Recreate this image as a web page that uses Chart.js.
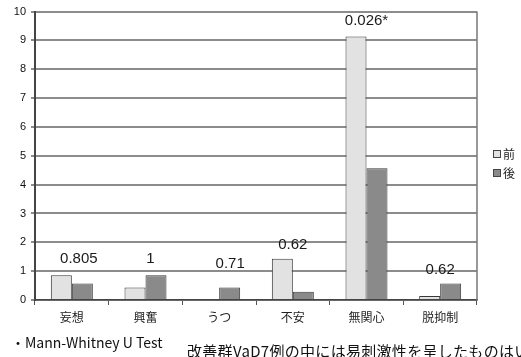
<!DOCTYPE html>
<html>
<head>
<meta charset="utf-8">
<script src="https://cdn.jsdelivr.net/npm/chart.js@4"></script>
<style>
  body { margin: 0; background: #fff; }
  #wrap { position: relative; width: 521px; height: 357px; overflow: hidden; }
  .note { position: absolute; white-space: nowrap; color: #111; font-family: "Noto Sans CJK JP", sans-serif; }
</style>
</head>
<body>
<div id="wrap">
  <canvas id="bpsd" width="521" height="357"></canvas>
  <div class="note" style="left:11px; top:332px; font-size:14px;">・Mann-Whitney U Test</div>
  <div class="note" style="left:187px; top:340px; font-size:15px; letter-spacing:0.3px;">改善群VaD7例の中には易刺激性を呈したものはい</div>
</div>
<script>
// 項目
const categories = ["妄想", "興奮", "うつ", "不安", "無関心", "脱抑制"];
// 前 / 後
const beforeValues = [0.86, 0.43, 0, 1.43, 9.14, 0.14];
const afterValues = [0.57, 0.86, 0.43, 0.29, 4.57, 0.57];
// p値ラベルとその高さ
const pLabels = ["0.805", "1", "0.71", "0.62", "0.026*", "0.62"];
const pLabelLevels = [1.41, 1.41, 1.24, 1.92, 9.69, 1.03];
const yTicks = [0, 1, 2, 3, 4, 5, 6, 7, 8, 9, 10];

const font = "Noto Sans CJK JP";
const pShift = [7, 5, 11, 0, 0, 0];

// p値を棒の上に書く
const pValuePlugin = {
  id: "pValues",
  afterDatasetsDraw(chart) {
    const { ctx, scales } = chart;
    ctx.save();
    ctx.font = "15px 'Liberation Sans', Arial, sans-serif";
    ctx.fillStyle = "#1a1a1a";
    ctx.textAlign = "center";
    ctx.textBaseline = "middle";
    pLabels.forEach((t, i) => {
      ctx.fillText(t, scales.x.getPixelForValue(i) + pShift[i], scales.y.getPixelForValue(pLabelLevels[i]));
    });
    ctx.restore();
  }
};

// 右側の枠線と凡例
const framePlugin = {
  id: "frame",
  afterDraw(chart) {
    const { ctx, chartArea } = chart;
    ctx.save();
    ctx.strokeStyle = "#777";
    ctx.lineWidth = 1.5;
    ctx.beginPath();
    ctx.moveTo(chartArea.right, chartArea.top);
    ctx.lineTo(chartArea.right, chartArea.bottom);
    ctx.stroke();

    const items = chart.data.datasets;
    ctx.font = "12px '" + font + "'";
    ctx.textBaseline = "middle";
    items.forEach((ds, i) => {
      const x = chartArea.right + 16;
      const y = 154 + i * 19;
      ctx.fillStyle = ds.backgroundColor;
      ctx.strokeStyle = "#444";
      ctx.lineWidth = 1;
      ctx.fillRect(x, y - 4, 8, 8);
      ctx.strokeRect(x + 0.5, y - 3.5, 7, 7);
      ctx.fillStyle = "#222";
      ctx.fillText(ds.label, x + 10, y);
    });
    ctx.restore();
  }
};

const ctx = document.getElementById("bpsd").getContext("2d");
new Chart(ctx, {
  type: "bar",
  data: {
    labels: categories,
    datasets: [
      {
        label: "前",
        data: beforeValues,
        backgroundColor: "#e2e2e2",
        borderColor: "#3a3a3a",
        borderWidth: 1,
        categoryPercentage: 0.57,
        barPercentage: 1.0
      },
      {
        label: "後",
        data: afterValues,
        backgroundColor: "#8a8a8a",
        borderColor: "#3a3a3a",
        borderWidth: 1,
        categoryPercentage: 0.57,
        barPercentage: 1.0
      }
    ]
  },
  options: {
    responsive: false,
    animation: false,
    layout: { padding: { top: 9, right: 44, bottom: 0, left: 0 } },
    plugins: {
      legend: { display: false },
      tooltip: { enabled: false }
    },
    scales: {
      x: {
        grid: { drawOnChartArea: false, drawTicks: true, tickLength: 5, color: "#555", offset: true },
        border: { color: "#444", width: 1.5 },
        ticks: { font: { family: font, size: 12 }, color: "#222", padding: 5 },
        afterFit(scale) { scale.height = 57; }
      },
      y: {
        min: 0,
        max: 10,
        afterBuildTicks(scale) { scale.ticks = yTicks.map(v => ({ value: v })); },
        grid: { color: "#8c8c8c", lineWidth: 2, tickLength: 4 },
        border: { color: "#444", width: 2 },
        ticks: { font: { family: "Liberation Sans", size: 11 }, color: "#111", padding: 5 },
        afterFit(scale) { scale.width = 35; }
      }
    }
  },
  plugins: [pValuePlugin, framePlugin]
});
</script>
</body>
</html>
